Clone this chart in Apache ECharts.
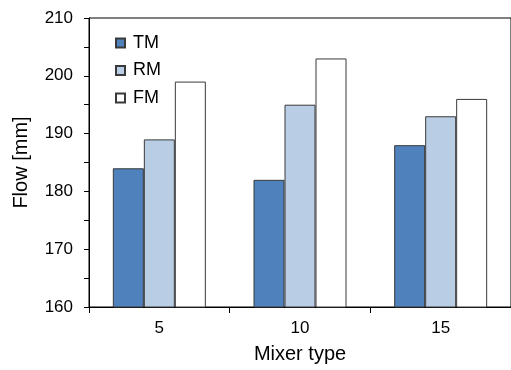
<!DOCTYPE html>
<html>
<head>
<meta charset="utf-8">
<script src="https://cdn.jsdelivr.net/npm/echarts@6/dist/echarts.min.js"></script>
<style>
  html, body { margin: 0; padding: 0; background: #fff; }
  #chart { width: 511px; height: 370px; }
</style>
</head>
<body>
<div id="chart"></div>
<script>
// Mixer types on the x axis
const categories = ['5', '10', '15'];
// Flow values in mm per mixing method
const tmValues = [184, 182, 188];
const rmValues = [189, 195, 193];
const fmValues = [199, 203, 196];
const seriesNames = ['TM', 'RM', 'FM'];

const font = 'Liberation Sans, Arial, sans-serif';
const chart = echarts.init(document.getElementById('chart'), null, { renderer: 'canvas' });

const barStyle = color => ({ color: color, borderColor: '#3a3a3a', borderWidth: 1 });

chart.setOption({
  animation: false,
  grid: {
    left: 89, right: 0, top: 18, bottom: 63,
    show: true, borderColor: '#000', borderWidth: 1, backgroundColor: 'transparent'
  },
  legend: {
    data: seriesNames,
    orient: 'vertical',
    left: 115, top: 34,
    padding: 0,
    itemWidth: 9, itemHeight: 9, itemGap: 9.5,
    icon: 'rect',
    textStyle: { fontFamily: font, fontSize: 18, lineHeight: 18, color: '#000', padding: [0, 0, 0, 3] }
  },
  xAxis: {
    type: 'category',
    data: categories,
    name: 'Mixer type',
    nameLocation: 'middle',
    nameGap: 37,
    nameTextStyle: { fontFamily: font, fontSize: 20, color: '#000' },
    axisLine: { lineStyle: { color: '#000', width: 1 } },
    axisTick: { show: true, length: 6, lineStyle: { color: '#000' } },
    axisLabel: { fontFamily: font, fontSize: 17, color: '#000', margin: 13 }
  },
  yAxis: {
    type: 'value',
    min: 160, max: 210, interval: 10,
    name: 'Flow [mm]',
    nameLocation: 'middle',
    nameGap: 58,
    nameTextStyle: { fontFamily: font, fontSize: 20, color: '#000' },
    axisLine: { show: true, lineStyle: { color: '#000', width: 1 } },
    axisTick: { show: true, length: 5, lineStyle: { color: '#000' } },
    minorTick: { show: true, splitNumber: 2, length: 5, lineStyle: { color: '#000' } },
    splitLine: { show: false },
    axisLabel: { fontFamily: font, fontSize: 17, color: '#000', margin: 16 }
  },
  series: [
    { name: 'TM', type: 'bar', data: tmValues, barWidth: 31, barGap: '0%', itemStyle: barStyle('#4f81bd') },
    { name: 'RM', type: 'bar', data: rmValues, barWidth: 31, barGap: '0%', itemStyle: barStyle('#b9cde5') },
    { name: 'FM', type: 'bar', data: fmValues, barWidth: 31, barGap: '0%', itemStyle: barStyle('#ffffff') }
  ]
});
</script>
</body>
</html>
